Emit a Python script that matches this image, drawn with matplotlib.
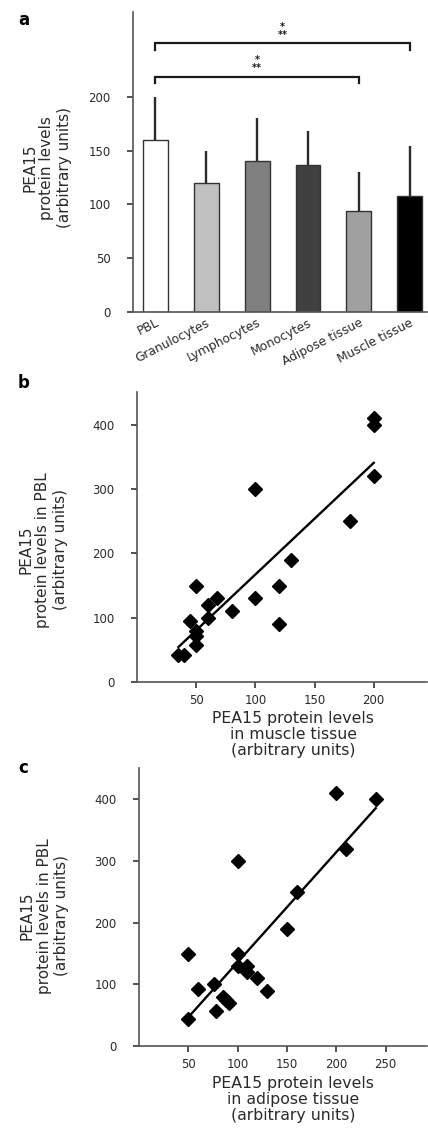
import numpy as np
import matplotlib
matplotlib.use("Agg")
import matplotlib.pyplot as plt

# panel a: mean PEA15 levels per cell/tissue type
cell_types = ["PBL", "Granulocytes", "Lymphocytes", "Monocytes", "Adipose tissue", "Muscle tissue"]
means = [160, 120, 140, 137, 94, 108]
upper_sd = [40, 30, 40, 31, 36, 46]
bar_colors = ["#ffffff", "#c0c0c0", "#808080", "#404040", "#a0a0a0", "#000000"]

# significance brackets: (from bar, to bar, height)
brackets = [(0, 5, 250), (0, 4, 219)]

# panel b: muscle tissue vs PBL
muscle_x = [200, 200, 200, 100, 180, 130, 120, 120, 100, 80, 68, 60, 60, 50, 45, 50, 50, 50, 35, 40]
muscle_pbl = [410, 400, 320, 300, 250, 190, 150, 90, 130, 110, 130, 120, 100, 150, 95, 79, 71, 57, 42, 42]

# panel c: adipose tissue vs PBL
adipose_x = [200, 240, 210, 100, 160, 150, 50, 100, 100, 110, 110, 120, 130, 76, 60, 78, 85, 88, 91, 50]
adipose_pbl = [410, 400, 320, 300, 250, 190, 150, 150, 130, 130, 120, 110, 90, 100, 93, 57, 80, 75, 70, 43]

W, H = 428, 1132
DARK = "#1a1a1a"
GREY = "#2a2a2a"

plt.rcParams["font.family"] = "DejaVu Sans"
fig = plt.figure(figsize=(W / 100, H / 100), dpi=100)


def px_box(left, top, right, bottom):
    return [left / W, 1 - bottom / H, (right - left) / W, (bottom - top) / H]


def style_axes(ax):
    for side in ["top", "right"]:
        ax.spines[side].set_visible(False)
    for side in ["left", "bottom"]:
        ax.spines[side].set_color("#555555")
        ax.spines[side].set_linewidth(1.2)
    ax.tick_params(axis="both", colors="#444444", labelcolor=GREY, width=1.3, length=4, labelsize=8.5)
    ax.tick_params(axis="y", pad=12)


# ---- panel a ----
ax_a = fig.add_axes(px_box(133, 12, 427, 312))
pos = np.arange(len(cell_types))
ax_a.bar(pos, means, width=0.49, color=bar_colors, edgecolor="#333333", linewidth=1.0, zorder=2)
ax_a.errorbar(pos, means, yerr=[np.zeros(len(means)), upper_sd], fmt="none",
              ecolor=GREY, elinewidth=1.7, capsize=0, zorder=1)
for x0, x1, h in brackets:
    ax_a.plot([x0, x0, x1, x1], [h - 6, h, h, h - 6], color=DARK, lw=1.6, solid_joinstyle="miter")
    xm = (x0 + x1) / 2
    ax_a.text(xm, h + 3, "*\n**", ha="center", va="bottom", fontsize=7, fontweight="bold",
              color=DARK, linespacing=0.75, multialignment="center")
ax_a.set_xlim(-0.44, 5.34)
ax_a.set_ylim(0, 279)
ax_a.set_yticks([0, 50, 100, 150, 200])
ax_a.set_xticks(pos)
style_axes(ax_a)
ax_a.tick_params(axis="x", length=0, pad=3, labelsize=8.8)
ax_a.set_xticklabels(cell_types, rotation=27, ha="right", rotation_mode="anchor")
fig.text(47 / W, 1 - 168 / H, "PEA15\nprotein levels\n(arbitrary units)", rotation=90,
         ha="center", va="center", multialignment="center", fontsize=11, color=GREY)
fig.text(18 / W, 1 - 20 / H, "a", fontsize=12, fontweight="bold", va="center")


def scatter_panel(box, xs, ys, xlim, xticks, xlabel, ylab_pos, xlab_pos, letter_pos, letter):
    ax = fig.add_axes(box)
    ax.plot(xs, ys, linestyle="none", marker="D", markersize=6.8, color="black", zorder=3)
    slope, icpt = np.polyfit(xs, ys, 1)
    fx = np.array([min(xs), max(xs)])
    ax.plot(fx, slope * fx + icpt, color="black", lw=1.7, zorder=2)
    ax.set_xlim(*xlim)
    ax.set_ylim(0, 451)
    ax.set_xticks(xticks)
    ax.set_yticks([0, 100, 200, 300, 400])
    style_axes(ax)
    ax.tick_params(axis="x", pad=5)
    fig.text(ylab_pos[0] / W, 1 - ylab_pos[1] / H, "PEA15\nprotein levels in PBL\n(arbitrary units)",
             rotation=90, ha="center", va="center", multialignment="center", fontsize=11, color=GREY)
    fig.text(xlab_pos[0] / W, 1 - xlab_pos[1] / H, xlabel, ha="center", va="top",
             multialignment="center", fontsize=11.3, color=GREY, linespacing=1.1)
    fig.text(letter_pos[0] / W, 1 - letter_pos[1] / H, letter, fontsize=12, fontweight="bold", va="center")
    return ax


# ---- panel b ----
scatter_panel(px_box(137, 392, 427, 682), muscle_x, muscle_pbl, (0, 245), [50, 100, 150, 200],
              "PEA15 protein levels\nin muscle tissue\n(arbitrary units)",
              (43, 550), (293, 711), (18, 383), "b")

# ---- panel c ----
scatter_panel(px_box(139, 768, 427, 1046), adipose_x, adipose_pbl, (0, 292), [50, 100, 150, 200, 250],
              "PEA15 protein levels\nin adipose tissue\n(arbitrary units)",
              (44, 916), (293, 1076), (18, 768), "c")

fig.savefig("out.png", dpi=100)
